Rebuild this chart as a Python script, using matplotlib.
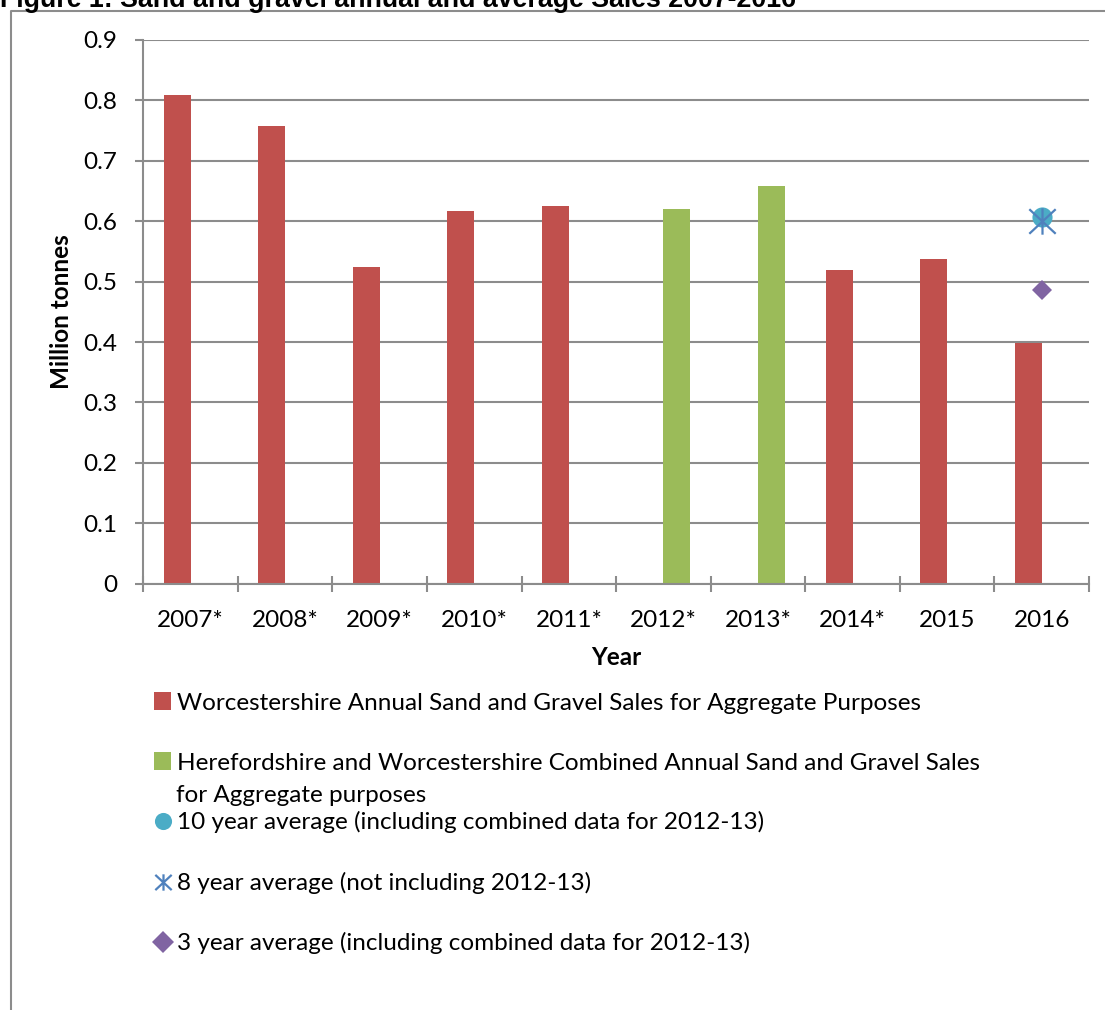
import numpy as np
import matplotlib
matplotlib.use("Agg")
import matplotlib.pyplot as plt
from matplotlib.path import Path
from matplotlib.lines import Line2D

years = ["2007*", "2008*", "2009*", "2010*", "2011*", "2012*", "2013*", "2014*", "2015", "2016"]
worcs_sales = [0.809, 0.758, 0.524, 0.617, 0.625, np.nan, np.nan, 0.519, 0.537, 0.398]
combined_sales = [np.nan, np.nan, np.nan, np.nan, np.nan, 0.620, 0.658, np.nan, np.nan, np.nan]
avg_year = "2016"
avg_10yr = 0.607
avg_8yr = 0.600
avg_3yr = 0.486

labels = [
    "Worcestershire Annual Sand and Gravel Sales for Aggregate Purposes",
    "Herefordshire and Worcestershire Combined Annual Sand and Gravel Sales",
    "10 year average (including combined data for 2012-13)",
    "8 year average (not including 2012-13)",
    "3 year average (including combined data for 2012-13)",
]
label_extra = "for Aggregate purposes"

RED = "#C0504D"
GREEN = "#9BBB59"
CYAN = "#4BACC6"
BLUE = "#4F81BD"
PURPLE = "#8064A2"
GRID = "#8C8C8C"

plt.rcParams["font.family"] = ["Lato", "DejaVu Sans"]
FS = 17.5

# excel style asterisk: an X with a vertical bar
star = Path(
    [(-1, -0.93), (1, 0.93), (-1, 0.93), (1, -0.93), (0, -1), (0, 1)],
    [Path.MOVETO, Path.LINETO, Path.MOVETO, Path.LINETO, Path.MOVETO, Path.LINETO],
)

W, H = 1105, 1010
fig = plt.figure(figsize=(W / 100, H / 100), dpi=100)
ax = fig.add_axes([143.3 / W, 1 - 583.7 / H, (1089 - 143.3) / W, (583.7 - 40) / H])

x = np.arange(len(years))
bw = 0.285
b1 = ax.bar(x - bw / 2, worcs_sales, bw, color=RED, zorder=3)
b2 = ax.bar(x + bw / 2, combined_sales, bw, color=GREEN, zorder=3)

xi = years.index(avg_year)
m1, = ax.plot([xi], [avg_10yr], "o", color=CYAN, markersize=14.5, markeredgewidth=0, zorder=4)
m2, = ax.plot([xi], [avg_8yr], marker=star, linestyle="none", color=BLUE,
              markersize=19, markeredgewidth=1.6, fillstyle="none", zorder=5)
m3, = ax.plot([xi], [avg_3yr], "D", color=PURPLE, markersize=10, markeredgewidth=0, zorder=4)

ax.set_xlim(-0.5, len(years) - 0.5)
ax.set_ylim(0, 0.9)
ax.set_yticks(np.arange(0, 0.91, 0.1))
ax.set_yticklabels(["0"] + [f"{v:.1f}" for v in np.arange(0.1, 0.91, 0.1)])
ax.set_xticks(x)
ax.set_xticklabels(years)
ax.set_xticks(np.arange(-0.5, len(years)), minor=True)

ax.tick_params(axis="x", which="major", length=0, pad=19, labelsize=FS)
ax.tick_params(axis="x", which="minor", direction="inout", length=12, width=1.5, color=GRID)
ax.tick_params(axis="y", which="major", direction="out", length=6, width=1.5, color=GRID,
               pad=13, labelsize=FS)

ax.grid(axis="y", color=GRID, linewidth=1.5, zorder=0)
for s in ["top", "right"]:
    ax.spines[s].set_visible(False)
for s in ["left", "bottom"]:
    ax.spines[s].set_color(GRID)
    ax.spines[s].set_linewidth(1.5)
ax.spines["bottom"].set_zorder(4)

ax.set_xlabel("Year", fontsize=FS, fontweight="bold", labelpad=11)
ax.set_ylabel("Million tonnes", fontsize=FS, fontweight="bold", labelpad=7)

# legend entries, one per row as in the original
rows = [
    (b1, labels[0], 703, 1.0),
    (b2, labels[1], 763, 1.0),
    (m1, labels[2], 822, 0.85),
    (m2, labels[3], 883, 0.62),
    (m3, labels[4], 943, 1.15),
]
for h, lab, yp, ms in rows:
    fig.legend([h], [lab], loc="center left", bbox_to_anchor=(154 / W, 1 - yp / H),
               frameon=False, fontsize=FS, handlelength=0.7, handleheight=0.7,
               handletextpad=0.25, borderpad=0, borderaxespad=0, markerscale=ms, numpoints=1)
fig.text(176 / W, 1 - 795 / H, label_extra, fontsize=FS, va="center", ha="left")

# title (cut off at the top of the page) and frame
fig.text(0.0, 1 - 7 / H, "Figure 1: Sand and gravel annual and average Sales 2007-2016",
         fontsize=19.3, fontweight="bold", family="Liberation Sans", va="baseline", ha="left")
fig.add_artist(Line2D([11 / W, 11 / W, 1], [0, 1 - 11 / H, 1 - 11 / H],
                      color=GRID, linewidth=1.5, transform=fig.transFigure))

fig.savefig("out.png", dpi=100)
